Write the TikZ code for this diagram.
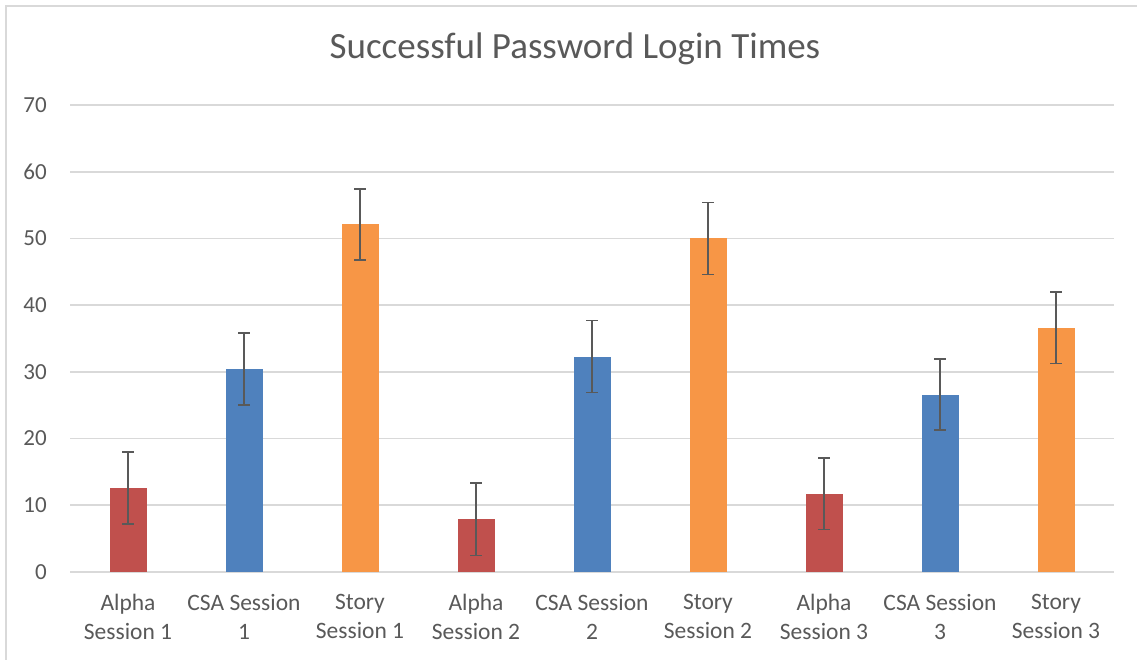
\documentclass[tikz,border=0pt]{standalone}
\usepackage{fontspec}
\setmainfont{Carlito}
\definecolor{txt}{HTML}{595959}
\definecolor{grid}{HTML}{D9D9D9}
\definecolor{cred}{HTML}{C0504D}
\definecolor{cblue}{HTML}{4F81BD}
\definecolor{corange}{HTML}{F79646}
\definecolor{errc}{HTML}{595959}
\begin{document}
\begin{tikzpicture}[x=1pt,y=-1pt,
  gridline/.style={draw=grid,line width=1.6pt},
  ticklabel/.style={text=txt,font=\fontsize{23}{27}\selectfont,anchor=east,inner sep=0pt},
  catlabel/.style={text=txt,font=\fontsize{23.5}{29}\selectfont,align=center,inner sep=0pt,anchor=north},
  errbar/.style={draw=errc,line width=1.6pt},
  bar/.style={inner sep=0pt,minimum width=37pt}]
\useasboundingbox (0,0) rectangle (1137,660);
\fill[white] (0,0) rectangle (1137,660);
\draw[grid,line width=1.4pt] (6,660) -- (6,6) -- (1137,6);
\node[text=txt,font=\fontsize{37}{44}\selectfont,inner sep=0pt] (title) at (575,49) {Successful Password Login Times};
% gridlines and tick labels
\foreach \v in {0,10,...,70}{
  \pgfmathsetmacro{\yy}{572-\v*6.671}
  \draw[gridline] (70,\yy) -- (1114,\yy);
  \node[ticklabel] (t\v) at (47,\yy) {\v};
}
% bars: index, colour, value, err
\foreach \i/\c/\val/\e/\lab in {
  0/cred/12.6/5.4/{Alpha\\Session 1},
  1/cblue/30.4/5.4/{CSA Session\\1},
  2/corange/52.1/5.35/{Story\\Session 1},
  3/cred/7.9/5.4/{Alpha\\Session 2},
  4/cblue/32.3/5.4/{CSA Session\\2},
  5/corange/50.0/5.4/{Story\\Session 2},
  6/cred/11.7/5.35/{Alpha\\Session 3},
  7/cblue/26.6/5.35/{CSA Session\\3},
  8/corange/36.6/5.35/{Story\\Session 3}}{
  \pgfmathsetmacro{\cx}{128+\i*116}
  \pgfmathsetmacro{\ty}{572-\val*6.671}
  \pgfmathsetmacro{\eu}{572-(\val+\e)*6.671}
  \pgfmathsetmacro{\ed}{572-(\val-\e)*6.671}
  \fill[\c] (\cx-18.5,572) rectangle (\cx+18.5,\ty);
  \coordinate (eu\i) at (\cx,\eu);
  \coordinate (ed\i) at (\cx,\ed);
  \draw[errbar] (eu\i) -- (ed\i);
  \draw[errbar] ([xshift=-6pt]eu\i) -- ([xshift=6pt]eu\i);
  \draw[errbar] ([xshift=-6pt]ed\i) -- ([xshift=6pt]ed\i);
  \node[catlabel] (c\i) at (\cx,594) {\lab};
}
\end{tikzpicture}
\end{document}
